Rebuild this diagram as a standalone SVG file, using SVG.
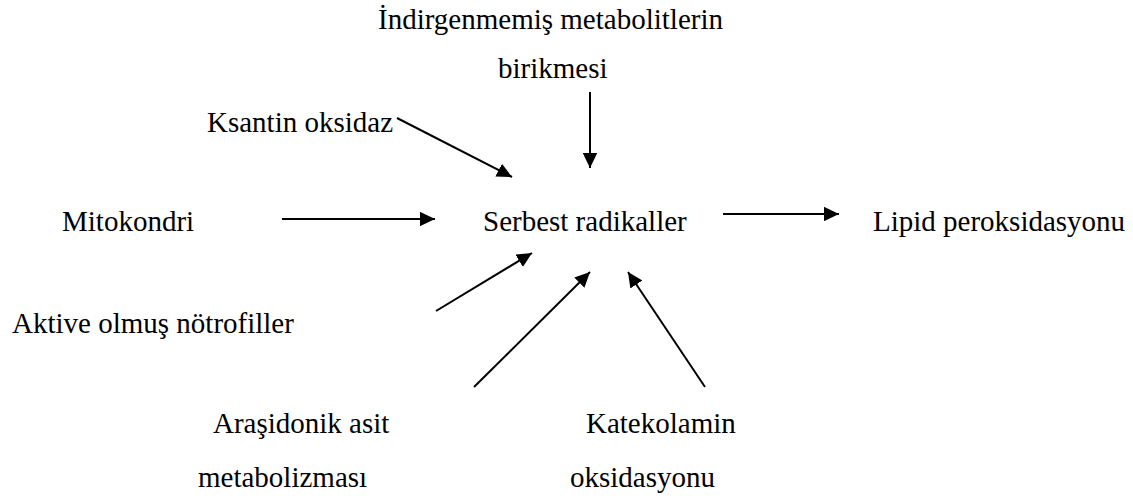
<svg xmlns="http://www.w3.org/2000/svg" width="1133" height="496" viewBox="0 0 1133 496">
<style>
.t{font-family:'Liberation Serif','Times New Roman',serif;font-size:29px;fill:#000}
.c line{stroke:#000;stroke-width:2;marker-end:url(#ah)}
</style>
<defs>
<marker id="ah" viewBox="0 0 10 10" refX="10" refY="5" markerWidth="7.5" markerHeight="7.2" markerUnits="strokeWidth" orient="auto" preserveAspectRatio="none">
<path d="M0,0L10,5L0,10Z" fill="#000"/>
</marker>
</defs>
<rect width="1133" height="496" fill="#fff"/>
<g class="t">
<g id="n-center"><text x="483" y="231">Serbest radikaller</text></g>
<g id="n-mito"><text x="62" y="231">Mitokondri</text></g>
<g id="n-lipid"><text x="873" y="231">Lipid peroksidasyonu</text></g>
<g id="n-indir"><text x="378" y="29">İndirgenmemiş metabolitlerin</text><text x="498" y="78">birikmesi</text></g>
<g id="n-ksantin"><text x="207" y="132">Ksantin oksidaz</text></g>
<g id="n-aktive"><text x="12" y="333">Aktive olmuş nötrofiller</text></g>
<g id="n-arasidonik"><text x="213" y="433">Araşidonik asit</text><text x="198" y="487">metabolizması</text></g>
<g id="n-katekol"><text x="586" y="433">Katekolamin</text><text x="570" y="487">oksidasyonu</text></g>
</g>
<g class="c" id="connectors">
<line x1="397" y1="118" x2="512" y2="177"/>
<line x1="590" y1="92" x2="590" y2="168"/>
<line x1="282" y1="219" x2="435" y2="219"/>
<line x1="723" y1="214" x2="839" y2="214"/>
<line x1="436" y1="311" x2="532" y2="253"/>
<line x1="474" y1="387" x2="590" y2="272"/>
<line x1="705" y1="387" x2="628" y2="272"/>
</g>
</svg>
